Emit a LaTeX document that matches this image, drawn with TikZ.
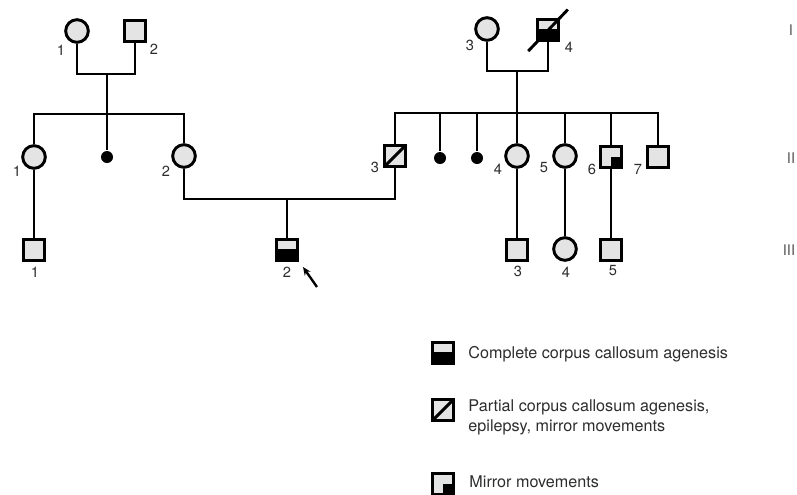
\documentclass[tikz,border=0pt]{standalone}
\usepackage{fontspec}
\setmainfont{TeX Gyre Heros}
\usepackage{tikz}
\newcommand{\deadslash}[1]% node
{([xshift=-0.24cm,yshift=-0.28cm]#1.south west) -- ([xshift=0.24cm,yshift=0.26cm]#1.north east)
}
\usetikzlibrary{positioning}
\usetikzlibrary{arrows.meta}
\definecolor{symgrey}{RGB}{228,228,228}
\definecolor{txtgrey}{RGB}{45,45,45}

\begin{document}
\begin{tikzpicture}[x=0.03cm,y=-0.03cm,line width=2.5pt,
	female/.style={circle,draw,fill=symgrey,minimum size=0.68cm,inner sep=0pt},
	male/.style={rectangle,draw,fill=symgrey,minimum size=0.62cm,inner sep=0pt},
	lost/.style={circle,fill=black,minimum size=0.36cm,inner sep=0pt},
	complete/.style={male,path picture={\fill[black] (path picture bounding box.south west) rectangle ([yshift=0.34cm]path picture bounding box.south east);}},
	partial/.style={male,path picture={\draw[black] (path picture bounding box.south west) -- (path picture bounding box.north east);}},
	mirror/.style={male,path picture={\fill[black] (path picture bounding box.center) rectangle (path picture bounding box.south east);}},
	num/.style={text=txtgrey,font=\fontsize{12.5}{14}\selectfont},
	gen/.style={text=txtgrey!80,font=\fontsize{12.5}{14}\selectfont},
	legend/.style={text=txtgrey,font=\fontsize{13.8}{17}\selectfont,anchor=west,align=left,inner sep=0pt}]
	\useasboundingbox (0,0) rectangle (797,494);
	\node[female] (i1) at (77,31){};%I-1
	\node[male] (i2) at (135,31){};%I-2
	\node[female] (i3) at (487,29){};%I-3
	\node[complete] (i4) at (548,30){};%I-4
	\node[female] (ii1) at (34,157){};%II-1
	\node[lost] (d1) at (107,157){};
	\node[female] (ii2) at (184,156){};%II-2
	\node[partial] (ii3) at (395,156){};%II-3
	\node[lost] (d2) at (440,158){};
	\node[lost] (d3) at (477,158){};
	\node[female] (ii4) at (517,156){};%II-4
	\node[female] (ii5) at (565,156){};%II-5
	\node[mirror] (ii6) at (611,157){};%II-6
	\node[male] (ii7) at (658,157){};%II-7
	\node[male] (iii1) at (34,250){};%III-1
	\node[complete] (iii2) at (287,250){};%III-2
	\node[male] (iii3) at (517,250){};%III-3
	\node[female] (iii4) at (565,249){};%III-4
	\node[male] (iii5) at (611,250){};%III-5
	\coordinate (m1) at (107,74);
	\coordinate (s1) at (107,114);
	\coordinate (m2) at (517,71);
	\coordinate (s2) at (517,113);
	\coordinate (m3) at (287,199);
	\draw (i1) |- (m1) -| (i2);
	\draw (m1) -- (s1);
	\draw (ii1) |- (s1) -| (ii2);
	\draw (s1) -- (d1);
	\draw (ii1) -- (iii1);
	\draw (ii2) |- (m3) -| (ii3);
	\draw (m3) -- (iii2);
	\draw (i3) |- (m2) -| (i4);
	\draw (m2) -- (s2);
	\draw (ii3) |- (s2) -| (ii7);
	\draw (d2) -- (d2 |- s2);
	\draw (d3) -- (d3 |- s2);
	\draw (ii4) -- (s2);
	\draw (ii5) -- (ii5 |- s2);
	\draw (ii6) -- (ii6 |- s2);
	\draw (ii4) -- (iii3);
	\draw (ii5) -- (iii4);
	\draw (ii6) -- (iii5);
	\draw \deadslash{i4};
	\node[num] (n-i1) at (61,50){1};
	\node[num] (n-i2) at (154,49){2};
	\node[num] (n-i3) at (470,45){3};
	\node[num] (n-i4) at (569,47){4};
	\node[num] (n-ii1) at (17,171){1};
	\node[num] (n-ii2) at (166,171){2};
	\node[num] (n-ii3) at (375,167){3};
	\node[num] (n-ii4) at (498,169){4};
	\node[num] (n-ii5) at (544,168){5};
	\node[num] (n-ii6) at (592,169){6};
	\node[num] (n-ii7) at (638,169){7};
	\node[num] (n-iii1) at (35,272){1};
	\node[num] (n-iii2) at (287,272){2};
	\node[num] (n-iii3) at (518,271){3};
	\node[num] (n-iii4) at (566,272){4};
	\node[num] (n-iii5) at (613,271){5};
	\node[gen] (g1) at (791,30){I};
	\node[gen] (g2) at (791,158){II};
	\node[gen] (g3) at (789,250){III};
	\coordinate (ptail) at (317,287);
	\coordinate (phead) at (303,267);
	\draw[-{Stealth[length=7pt,width=6pt]},line width=2pt] (ptail) -- (phead);
	\node[complete] (key1) at (443,353){};
	\node[partial] (key2) at (443,410){};
	\node[mirror] (key3) at (443,484){};
	\node[legend] (t1) at (467,354){Complete corpus callosum agenesis};
	\node[legend] (t2) at (467,417){Partial corpus callosum agenesis,\\epilepsy, mirror movements};
	\node[legend] (t3) at (468,482){Mirror movements};
\end{tikzpicture}
\end{document}
